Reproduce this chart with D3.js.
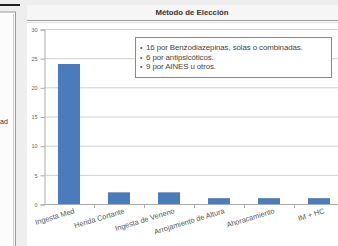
<!DOCTYPE html>
<html>
<head>
<meta charset="utf-8">
<script src="https://cdn.jsdelivr.net/npm/d3@7/dist/d3.min.js"></script>
<style>
  body { margin: 0; background: #eeeeee; }
  svg { display: block; font-family: "Liberation Sans", Arial, sans-serif; }
</style>
</head>
<body>
<svg id="chart"></svg>
<script>
// data
const categories = ['Ingesta Med', 'Herida Cortante', 'Ingesta de Veneno', 'Arrojamiento de Altura', 'Ahoracamiento', 'IM + HC'];
const values = [24, 2, 2, 1, 1, 1];
const yTicks = [0, 5, 10, 15, 20, 25, 30];
const notes = ['16 por Benzodiazepinas, solas o combinadas.', '6 por antipsicóticos.', '9 por AINES u otros.'];
const title = 'Método de Elección';

const W = 338, H = 246;
let svg = d3.select('#chart').attr('width', W).attr('height', H);

// background panels
svg.append('rect').attr('width', W).attr('height', H).attr('fill', '#eeeeee');
svg.append('rect').attr('x', 0).attr('y', 4).attr('width', 20).attr('height', 2).attr('fill', '#222');
svg.append('rect').attr('x', -2).attr('y', 12).attr('width', 17.5).attr('height', 240)
  .attr('fill', '#fcfcfc').attr('stroke', '#999').attr('stroke-width', 1);
svg.append('line').attr('x1', 13.5).attr('x2', 13.5).attr('y1', 14).attr('y2', 246).attr('stroke', '#ccc');
svg.append('text').attr('x', 0).attr('y', 124).attr('font-size', 7).attr('fill', '#333').text('ad');

svg.append('rect').attr('x', 27).attr('y', 5).attr('width', W - 27).attr('height', H - 5).attr('fill', '#fff');
svg.append('rect').attr('x', 27).attr('y', 5).attr('width', W - 27).attr('height', 15).attr('fill', '#f6f6f6');
svg.append('line').attr('x1', 27).attr('x2', W).attr('y1', 20.5).attr('y2', 20.5).attr('stroke', '#999');
svg.append('line').attr('x1', 27).attr('x2', W).attr('y1', 22.5).attr('y2', 22.5).attr('stroke', '#ddd');
svg.append('text').attr('x', 192).attr('y', 15).attr('text-anchor', 'middle')
  .attr('font-size', 7.8).attr('font-weight', 'bold').attr('fill', '#333').text(title);

// scales
const x = d3.scaleBand().domain(categories).range([44, 344]).paddingInner(0.6).paddingOuter(0.3);
const y = d3.scaleLinear().domain([0, 30]).range([204, 29]);

// grid
svg.append('g').selectAll('line').data(yTicks.slice(1)).join('line')
  .attr('x1', 44).attr('x2', W).attr('y1', d => y(d) + 0.5).attr('y2', d => y(d) + 0.5)
  .attr('stroke', '#cfcfcf');

// y axis
let yAxis = svg.append('g').attr('transform', 'translate(44.5,0.5)')
  .call(d3.axisLeft(y).tickValues(yTicks).tickSize(4).tickPadding(3));
yAxis.select('.domain').attr('stroke', '#aaa');
yAxis.selectAll('.tick line').attr('stroke', '#aaa');
yAxis.selectAll('text').attr('font-size', 5.5).attr('fill', '#666').attr('font-family', 'Liberation Sans, Arial');

// bars
svg.append('g').selectAll('rect').data(values).join('rect')
  .attr('x', (d, i) => x(categories[i]) - 1)
  .attr('y', d => y(d))
  .attr('width', x.bandwidth() + 2)
  .attr('height', d => y(0) - y(d))
  .attr('fill', '#4a7bbd');

// x axis
const step = x.step();
svg.append('line').attr('x1', 44).attr('x2', W).attr('y1', 204.5).attr('y2', 204.5).attr('stroke', '#aaa');
svg.append('g').selectAll('line').data(categories.slice(1)).join('line')
  .attr('x1', d => x(d) - (step - x.bandwidth()) / 2 + 0.5)
  .attr('x2', d => x(d) - (step - x.bandwidth()) / 2 + 0.5)
  .attr('y1', 204).attr('y2', 208).attr('stroke', '#aaa');
svg.append('g').selectAll('text').data(categories).join('text')
  .attr('transform', d => `translate(${x(d) + x.bandwidth() / 2 + 6},${213}) rotate(-17)`)
  .attr('text-anchor', 'end')
  .attr('font-size', 7.4).attr('fill', '#555')
  .text(d => d);

// notes box
svg.append('rect').attr('x', 135.5).attr('y', 37.5).attr('width', 196).attr('height', 40)
  .attr('fill', '#fff').attr('stroke', '#888').attr('stroke-width', 1);
let noteG = svg.append('g').selectAll('g').data(notes).join('g')
  .attr('transform', (d, i) => `translate(140,${50 + i * 9.5})`);
noteG.append('text').attr('x', 0).attr('font-size', 7).attr('fill', '#555').text('•');
noteG.append('text').attr('x', 6).attr('font-size', 7.9).attr('fill', '#444')
  .attr('letter-spacing', -0.1).text(d => d);
</script>
</body>
</html>
